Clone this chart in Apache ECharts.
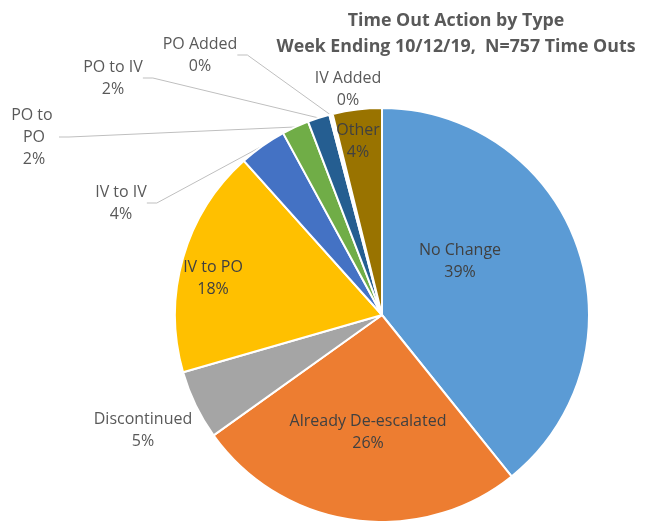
<!DOCTYPE html>
<html>
<head>
<meta charset="utf-8">
<script src="https://cdn.jsdelivr.net/npm/echarts@6/dist/echarts.min.js"></script>
<style>html,body{margin:0;padding:0;background:#fff}#c{width:650px;height:521px}</style>
</head>
<body>
<div id="c"></div>
<script>
var categories = ['No Change', 'Already De-escalated', 'Discontinued', 'IV to PO', 'IV to IV', 'PO to PO', 'PO to IV', 'PO Added', 'IV Added', 'Other'];
var counts = [297, 196, 41, 135, 28, 16, 13, 1, 1, 29];
var colors = ['#5B9BD5', '#ED7D31', '#A5A5A5', '#FFC000', '#4472C4', '#70AD47', '#255E91', '#9E480E', '#636363', '#997300'];
var titleLines = ['Time Out Action by Type', 'Week Ending 10/12/19,  N=757 Time Outs'];

// label placement (style/layout only)
var labelPlace = {
  'No Change': {x: 460, y: 261, line: false},
  'Already De-escalated': {x: 368, y: 432, line: false},
  'Discontinued': {x: 143, y: 430, line: false},
  'IV to PO': {x: 213, y: 278, line: false},
  'IV to IV': {x: 121, y: 203, line: true},
  'PO to PO': {x: 34, y: 137, line: true},
  'PO to IV': {x: 113, y: 78, line: true},
  'PO Added': {x: 200, y: 55, line: true},
  'IV Added': {x: 348, y: 89, line: false},
  'Other': {x: 358, y: 141, line: false}
};
var insideNames = ['No Change', 'Already De-escalated', 'IV to PO', 'Other'];

var chart = echarts.init(document.getElementById('c'), null, {renderer: 'canvas'});
var data = categories.map(function (n, i) {
  var p = labelPlace[n];
  var item = {
    name: n,
    value: counts[i],
    itemStyle: {color: colors[i]},
    labelLine: {show: p.line},
    label: {color: insideNames.indexOf(n) >= 0 ? '#404040' : '#595959'}
  };
  if (n === 'PO to PO') {
    item.label.width = 50;
    item.label.overflow = 'break';
  }
  return item;
});

chart.setOption({
  animation: false,
  title: {
    text: titleLines.join('\n'),
    left: 451,
    top: 3,
    textAlign: 'center',
    textStyle: {fontFamily: 'Open Sans', fontSize: 17.8, fontWeight: 'bold', color: '#595959', lineHeight: 26}
  },
  series: [{
    type: 'pie',
    center: [382, 315],
    radius: [0, 207],
    startAngle: 90,
    clockwise: true,
    avoidLabelOverlap: false,
    itemStyle: {borderColor: '#fff', borderWidth: 2},
    label: {
      show: true,
      position: 'outside',
      fontFamily: 'Open Sans',
      fontSize: 16,
      lineHeight: 22,
      color: '#595959',
      align: 'center',
      formatter: function (p) { return p.name + '\n' + Math.round(p.percent) + '%'; }
    },
    labelLine: {show: true, lineStyle: {color: '#BFBFBF', width: 1}, length: 10, length2: 10},
    labelLayout: function (params) {
      var p = labelPlace[categories[params.dataIndex]];
      return {x: p.x, y: p.y, align: 'center', verticalAlign: 'middle'};
    },
    data: data
  }]
});
</script>
</body>
</html>
